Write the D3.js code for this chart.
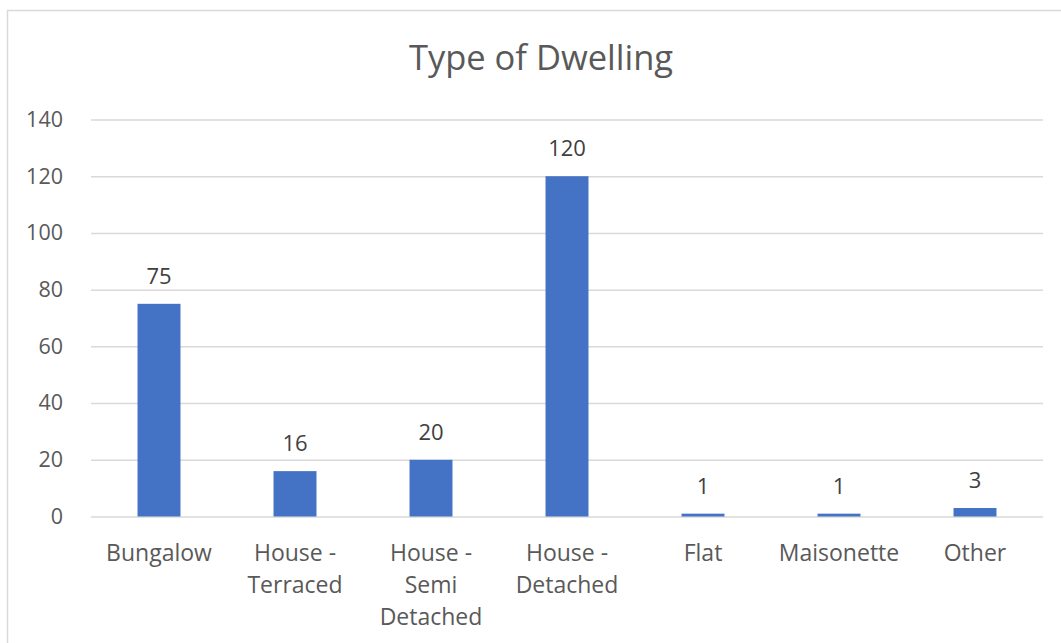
<!DOCTYPE html>
<html>
<head>
<meta charset="utf-8">
<script src="https://cdn.jsdelivr.net/npm/d3@7"></script>
<style>
  html, body { margin: 0; padding: 0; background: #fff; }
  svg { display: block; }
</style>
</head>
<body>
<svg id="chart" width="1061" height="643"></svg>
<script>
const title = "Type of Dwelling";
const categories = [
  ["Bungalow"],
  ["House -", "Terraced"],
  ["House -", "Semi", "Detached"],
  ["House -", "Detached"],
  ["Flat"],
  ["Maisonette"],
  ["Other"]
];
const categoryKeys = ["Bungalow", "House - Terraced", "House - Semi Detached", "House - Detached", "Flat", "Maisonette", "Other"];
const values = [75, 16, 20, 120, 1, 1, 3];
const yTicks = [0, 20, 40, 60, 80, 100, 120, 140];

const font = "'Open Sans', Lato, sans-serif";
const svg = d3.select("#chart");

// chart frame
svg.append("path")
  .attr("d", "M7.5,643 L7.5,10.5 L1061,10.5")
  .attr("fill", "none").attr("stroke", "#d9d9d9").attr("stroke-width", 1.5);

const x = d3.scaleBand().domain(categoryKeys).range([91, 1043]).paddingInner(0.684).paddingOuter(0.342);
const y = d3.scaleLinear().domain([0, 140]).range([516.5, 119.5]);

// gridlines
const yAxis = d3.axisLeft(y).tickValues(yTicks).tickSize(-(1043 - 91)).tickFormat(d3.format("d")).tickPadding(28);
const gy = svg.append("g").attr("transform", "translate(91,0)").call(yAxis);
gy.select(".domain").remove();
gy.selectAll(".tick line").attr("stroke", "#d9d9d9").attr("stroke-width", 1.5);
gy.selectAll(".tick text").attr("fill", "#595959").attr("font-family", font).attr("font-size", 21.5);

// bars
svg.append("g").selectAll("rect").data(values).join("rect")
  .attr("x", (d, i) => x(categoryKeys[i]))
  .attr("width", x.bandwidth())
  .attr("y", d => y(d))
  .attr("height", d => y(0) - y(d))
  .attr("fill", "#4472c4");

// value labels
svg.append("g").selectAll("text").data(values).join("text")
  .attr("x", (d, i) => x(categoryKeys[i]) + x.bandwidth() / 2)
  .attr("y", d => y(d) - 20)
  .attr("text-anchor", "middle")
  .attr("fill", "#404040")
  .attr("font-family", font).attr("font-size", 22)
  .text(d => d);

// category labels
const gx = svg.append("g");
categories.forEach((lines, i) => {
  const t = gx.append("text")
    .attr("text-anchor", "middle")
    .attr("fill", "#595959")
    .attr("font-family", font).attr("font-size", 23);
  lines.forEach((ln, j) => {
    t.append("tspan")
      .attr("x", x(categoryKeys[i]) + x.bandwidth() / 2)
      .attr("y", 561 + j * 32)
      .text(ln);
  });
});

// title
svg.append("text")
  .attr("x", 541).attr("y", 70)
  .attr("text-anchor", "middle")
  .attr("fill", "#595959")
  .attr("font-family", font).attr("font-size", 34.5)
  .text(title);
</script>
</body>
</html>
